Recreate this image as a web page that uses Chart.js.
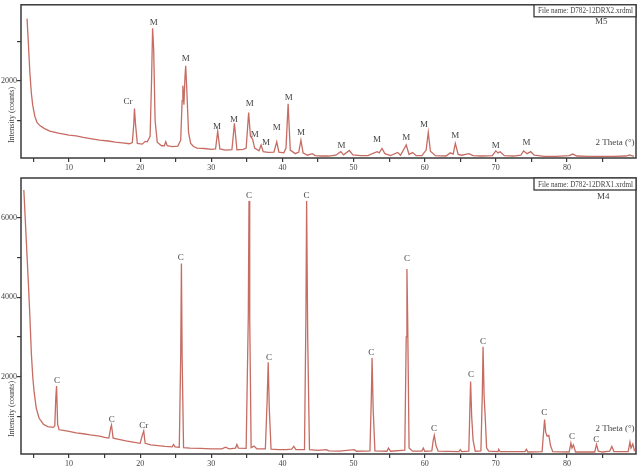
<!DOCTYPE html>
<html>
<head>
<meta charset="utf-8">
<script src="https://cdn.jsdelivr.net/npm/chart.js@4.4.1/dist/chart.umd.min.js"></script>
<style>
  body { margin: 0; background: #fff; }
  #boxTop { position: absolute; left: 0; top: 0; width: 640px; height: 172px; }
  #boxBottom { position: absolute; left: 0; top: 172px; width: 640px; height: 298px; }
</style>
</head>
<body>
<div id="boxTop"><canvas id="chartTop"></canvas></div>
<div id="boxBottom"><canvas id="chartBottom"></canvas></div>
<script>
// axis ticks (2 Theta and counts)
const thetaTicks = [5, 10, 15, 20, 25, 30, 35, 40, 45, 50, 55, 60, 65, 70, 75, 80, 85];
const countTicksTop = [1000, 2000, 3000];
const countTicksBottom = [1000, 2000, 3000, 4000, 5000, 6000];

// D782-12DRX2 (sample M5)
const thetaTop = [4.1, 4.3, 4.5, 4.7, 4.9, 5.2, 5.5, 5.9, 6.5, 7.3, 8.5, 10.0, 11.0, 12.0, 13.0, 14.3, 15.5, 16.5, 17.5, 18.5,
  18.9, 19.1, 19.2, 19.35, 19.6, 20.3, 20.7, 21.0, 21.4, 21.6, 21.75, 21.9, 22.1, 22.4, 23.0, 23.4, 23.6, 23.8, 24.5, 25.3,
  25.7, 25.9, 26.0, 26.15, 26.3, 26.4, 26.55, 26.8, 27.1, 27.5, 28.0, 29.0, 30.0, 30.6, 30.9, 31.2, 32.0, 32.9, 33.25, 33.6,
  34.5, 34.9, 35.25, 35.5, 35.8, 36.1, 36.7, 37.0, 37.3, 38.0, 38.8, 39.2, 39.5, 40.2, 40.5, 40.8, 41.1, 41.8, 42.3, 42.6,
  42.9, 43.5, 44.2, 44.6, 45.5, 46.5, 47.5, 48.2, 48.6, 49.4, 49.9, 51.0, 52.0, 53.3, 53.6, 54.0, 54.4, 55.2, 56.2, 56.6,
  57.4, 57.8, 58.3, 58.8, 59.6, 60.2, 60.5, 60.8, 61.5, 63.0, 63.6, 64.0, 64.3, 64.7, 65.2, 66.2, 66.8, 68.0, 69.5, 70.0,
  70.3, 70.6, 71.2, 72.5, 73.5, 73.9, 74.4, 74.9, 75.4, 76.8, 78.5, 80.3, 80.8, 81.4, 83.0, 85.0, 86.5, 88.3, 88.8, 89.4];
const countsTop = [3575, 2900, 2200, 1700, 1380, 1100, 950, 870, 800, 730, 680, 630, 610, 570, 540, 500, 480, 450, 430, 410,
  440, 900, 1300, 900, 420, 400, 470, 460, 600, 2000, 3330, 2800, 1000, 450, 360, 360, 460, 360, 340, 350,
  500, 1500, 1880, 1400, 2100, 2380, 1800, 700, 420, 340, 300, 290, 270, 280, 730, 280, 250, 260, 925, 260,
  270, 300, 1200, 600, 530, 300, 230, 380, 210, 190, 200, 460, 200, 180, 300, 1420, 250, 160, 200, 500,
  180, 120, 160, 110, 100, 100, 120, 210, 130, 240, 130, 110, 110, 210, 180, 290, 160, 110, 190, 120,
  380, 140, 190, 110, 110, 250, 700, 220, 110, 100, 180, 150, 420, 140, 120, 160, 110, 100, 110, 230,
  180, 210, 110, 100, 120, 230, 160, 210, 120, 90, 90, 110, 150, 100, 90, 90, 90, 100, 130, 90];
const peakNamesTop = ['Cr', 'M', 'M', 'M', 'M', 'M', 'M', 'M', 'M', 'M', 'M', 'M', 'M', 'M', 'M', 'M', 'M', 'M'];
const peakThetaTop = [18.3, 21.9, 26.4, 30.8, 33.2, 35.4, 36.1, 37.7, 39.2, 40.9, 42.6, 48.3, 53.3, 57.4, 59.9, 64.3, 70.0, 74.3];
const peakCountsTop = [1475, 3475, 2575, 833, 1025, 1425, 633, 433, 817, 1567, 692, 367, 525, 558, 892, 608, 375, 442];

// D782-12DRX1 (sample M4)
const thetaBottom = [3.65, 4.0, 4.3, 4.5, 4.7, 4.9, 5.1, 5.4, 5.8, 6.4, 7.0, 7.8, 8.0, 8.15, 8.25, 8.4, 8.6, 9.0, 10.0, 11.0, 12.0, 13.0,
  14.3, 15.0, 15.6, 15.85, 15.97, 16.2, 17.0, 18.0, 19.0, 20.0, 20.35, 20.5, 20.7, 21.5, 22.5, 23.5, 24.5, 24.7, 24.9, 25.5,
  25.7, 25.8, 25.9, 26.1, 27.0, 28.5, 30.0, 31.5, 32.0, 32.5, 33.4, 33.6, 33.8, 34.9, 35.2, 35.3, 35.4, 35.6, 36.0, 36.4,
  37.6, 37.85, 38.0, 38.15, 38.4, 39.5, 40.5, 41.3, 41.6, 41.9, 43.1, 43.3, 43.4, 43.55, 43.8, 45.0, 46.2, 46.5, 48.0, 50.1,
  50.4, 52.3, 52.5, 52.6, 52.75, 53.0, 54.7, 54.9, 55.2, 57.2, 57.4, 57.5, 57.6, 57.8, 58.3, 59.6, 59.8, 60.0, 61.0, 61.2,
  61.35, 61.6, 61.9, 64.8, 65.0, 65.2, 66.2, 66.35, 66.45, 66.6, 66.8, 67.1, 67.9, 68.1, 68.2, 68.35, 68.5, 68.7, 69.0, 70.3,
  70.4, 70.6, 74.1, 74.3, 74.5, 76.5, 76.75, 76.85, 77.0, 77.2, 77.45, 77.7, 78.0, 80.3, 80.55, 80.7, 80.9, 81.2, 83.9, 84.15,
  84.4, 85.0, 86.0, 86.3, 86.6, 88.6, 88.85, 89.0, 89.25, 89.5];
const countsBottom = [6700, 5400, 4300, 3500, 2600, 2000, 1600, 1200, 950, 800, 740, 720, 760, 1500, 1760, 800, 660, 650, 620, 580, 560, 530,
  500, 470, 450, 700, 780, 450, 420, 380, 350, 320, 550, 630, 320, 280, 260, 240, 230, 290, 230, 220,
  2500, 4850, 2500, 210, 200, 190, 180, 180, 220, 180, 200, 290, 200, 190, 3500, 6420, 3500, 210, 250, 180,
  180, 1400, 2360, 1200, 170, 160, 160, 170, 240, 160, 160, 3500, 6420, 3000, 160, 140, 160, 130, 120, 160,
  120, 130, 1500, 2470, 1200, 130, 120, 200, 120, 150, 3000, 4710, 3500, 200, 120, 120, 200, 120, 130, 400,
  520, 250, 120, 110, 160, 110, 120, 1200, 1875, 1000, 400, 120, 130, 1600, 2750, 1500, 1000, 200, 120, 110,
  170, 110, 110, 170, 100, 110, 700, 920, 600, 500, 520, 250, 110, 100, 325, 200, 280, 100, 100, 290,
  120, 100, 120, 240, 110, 110, 350, 200, 300, 120];
const peakNamesBottom = ['C', 'C', 'Cr', 'C', 'C', 'C', 'C', 'C', 'C', 'C', 'C', 'C', 'C', 'C', 'C'];
const peakThetaBottom = [8.3, 16.0, 20.5, 25.7, 35.3, 38.1, 43.4, 52.5, 57.5, 61.3, 66.5, 68.2, 76.8, 80.7, 84.1];
const peakCountsBottom = [1890, 920, 757, 5000, 6560, 2485, 6560, 2610, 4965, 690, 2045, 2890, 1100, 478, 420];

const lineColor = 'rgb(198, 108, 98)';
const inkColor = '#3a3a3a';
const textColor = '#444';
const serif = '"Liberation Serif", "DejaVu Serif", serif';

// frame, peak names, file box and labels drawn on top of the plot
const extrasPlugin = {
  id: 'extras',
  afterDatasetsDraw(chart, args, opts) {
    const ctx = chart.ctx;
    const a = chart.chartArea;
    const x = chart.scales.x;
    const y = chart.scales.y;
    ctx.save();
    ctx.strokeStyle = inkColor;
    ctx.lineWidth = 1.5;
    ctx.strokeRect(a.left, a.top, a.right - a.left, a.bottom - a.top);

    ctx.fillStyle = textColor;
    ctx.font = '9px ' + serif;
    ctx.textAlign = 'center';
    ctx.textBaseline = 'middle';
    opts.names.forEach((n, i) => {
      ctx.fillText(n, x.getPixelForValue(opts.thetas[i]), y.getPixelForValue(opts.counts[i]));
    });
    ctx.fillText(opts.sample, x.getPixelForValue(opts.sampleAt[0]), y.getPixelForValue(opts.sampleAt[1]));
    ctx.fillText('2 Theta (°)', x.getPixelForValue(opts.thetaTitleAt[0]), y.getPixelForValue(opts.thetaTitleAt[1]));

    // file name box, top right corner; text squeezed to fit like the original
    const w = 102, h = 12;
    ctx.fillStyle = '#fff';
    ctx.fillRect(a.right - w, a.top, w, h);
    ctx.lineWidth = 1.3;
    ctx.strokeRect(a.right - w, a.top, w, h);
    ctx.fillStyle = textColor;
    ctx.textAlign = 'left';
    ctx.font = '8px ' + serif;
    const tw = ctx.measureText(opts.fileName).width;
    ctx.save();
    ctx.translate(a.right - w + 4, a.top + h / 2 + 0.5);
    ctx.scale(Math.min(1, 95 / tw), 1);
    ctx.fillText(opts.fileName, 0, 0);
    ctx.restore();

    // y title, placed low on the left
    ctx.save();
    ctx.translate(12, opts.titleY);
    ctx.rotate(-Math.PI / 2);
    ctx.textAlign = 'center';
    ctx.font = '8px ' + serif;
    ctx.fillText('Intensity (counts)', 0, 0);
    ctx.restore();
    ctx.restore();
  }
};

function makeXrdChart(canvasId, thetas, counts, yMin, yMax, yTicks, padTop, xHeight, extras) {
  const ctx = document.getElementById(canvasId);
  const points = thetas.map((t, i) => ({ x: t, y: counts[i] }));
  return new Chart(ctx, {
    type: 'line',
    data: {
      datasets: [{
        data: points,
        borderColor: lineColor,
        borderWidth: 1.3,
        pointRadius: 0,
        tension: 0,
        fill: false
      }]
    },
    options: {
      responsive: true,
      maintainAspectRatio: false,
      animation: false,
      layout: { padding: { top: padTop, right: 4, left: 0, bottom: 0 } },
      plugins: {
        legend: { display: false },
        tooltip: { enabled: false },
        extras: extras
      },
      scales: {
        x: {
          type: 'linear',
          min: 3.25,
          max: 89.7,
          border: { display: false },
          grid: { drawOnChartArea: false, drawTicks: true, tickLength: 4, color: inkColor, lineWidth: 1.2 },
          afterBuildTicks: (axis) => { axis.ticks = thetaTicks.map(v => ({ value: v })); },
          afterFit: (axis) => { axis.height = xHeight; },
          ticks: {
            autoSkip: false,
            maxRotation: 0,
            padding: 1,
            color: textColor,
            font: { family: serif, size: 8 },
            callback: (v) => (v % 10 === 0 ? String(v) : '')
          }
        },
        y: {
          min: yMin,
          max: yMax,
          border: { display: false },
          grid: { drawOnChartArea: false, drawTicks: true, tickLength: 4, color: inkColor, lineWidth: 1.2 },
          afterBuildTicks: (axis) => { axis.ticks = yTicks.map(v => ({ value: v })); },
          afterFit: (axis) => { axis.width = 21; },
          ticks: {
            autoSkip: false,
            padding: 0,
            color: textColor,
            font: { family: serif, size: 8 },
            callback: (v) => (v % 2000 === 0 ? String(v) : '')
          }
        }
      }
    },
    plugins: [extrasPlugin]
  });
}

makeXrdChart('chartTop', thetaTop, countsTop, 50, 3925, countTicksTop, 3, 14, {
  names: peakNamesTop, thetas: peakThetaTop, counts: peakCountsTop,
  sample: 'M5', sampleAt: [84.8, 3500],
  thetaTitleAt: [86.75, 450],
  fileName: 'File name: D782-12DRX2.xrdml',
  titleY: 115
});

makeXrdChart('chartBottom', thetaBottom, countsBottom, 50, 7000, countTicksBottom, 6, 16, {
  names: peakNamesBottom, thetas: peakThetaBottom, counts: peakCountsBottom,
  sample: 'M4', sampleAt: [85.1, 6540],
  thetaTitleAt: [86.75, 700],
  fileName: 'File name: D782-12DRX1.xrdml',
  titleY: 237
});
</script>
</body>
</html>
